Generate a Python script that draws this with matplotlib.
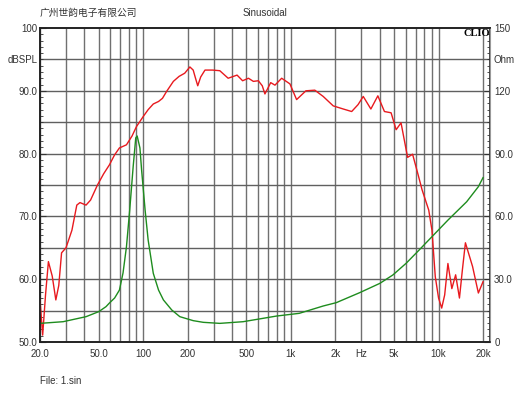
import numpy as np
import matplotlib.pyplot as plt
from matplotlib.ticker import FixedLocator, FixedFormatter, NullFormatter, NullLocator

plt.rcParams["font.family"] = ["Liberation Sans", "DejaVu Sans"]

# SPL response (Hz, dB)
spl_freq = [20, 20.85, 21.8, 22.8, 24.2, 25.6, 26.8, 28.0, 30, 32.9, 35.5, 37.3, 41, 44,
            49, 54, 59, 64, 69, 77, 84, 90, 100, 108, 117, 127, 135, 144, 160, 175, 191,
            207, 218, 226, 234, 245, 262, 295, 330, 376, 432, 471, 516, 557, 602, 640,
            667, 730, 780, 866, 985, 1093, 1264, 1452, 1655, 1935, 2264, 2580, 2850,
            3090, 3480, 3880, 4300, 4770, 5160, 5570, 6170, 6670, 7200, 7740, 8580, 9020,
            9500, 10000, 10500, 11000, 11570, 12300, 13050, 13850, 14500, 15200, 17000,
            18600, 20000]
spl_db = [56.7, 51.1, 57.5, 62.8, 60.5, 56.7, 59.0, 64.2, 65.0, 67.8, 71.8, 72.2, 71.8,
          72.6, 75.0, 76.8, 78.2, 79.8, 80.9, 81.4, 82.8, 84.3, 85.9, 87.0, 87.9, 88.3,
          88.8, 89.9, 91.5, 92.3, 92.8, 93.8, 93.3, 92.0, 90.8, 92.2, 93.3, 93.3, 93.2,
          92.0, 92.5, 91.6, 92.0, 91.5, 91.6, 90.8, 89.5, 91.3, 90.9, 92.0, 91.1, 88.6,
          90.0, 90.1, 89.1, 87.6, 87.1, 86.7, 87.8, 89.1, 87.1, 89.2, 86.7, 86.5, 83.8,
          84.9, 79.4, 79.9, 77.0, 74.2, 71.0, 67.8, 60.4, 57.0, 55.4, 57.5, 62.5, 58.5,
          60.7, 57.0, 61.5, 65.8, 62.0, 57.8, 59.6]

# Impedance (Hz, Ohm)
imp_freq = [20, 28.7, 41, 50, 56, 59, 64, 69, 73, 77, 81, 85.5, 89, 91, 95, 97.5, 103,
            108, 117, 127, 137, 156, 177, 218, 255, 330, 475, 800, 1140, 1655, 2030,
            2930, 4000, 4900, 6030, 7400, 9020, 11600, 15500, 18600, 20000]
imp_ohm = [8.9, 9.7, 12.1, 14.5, 16.9, 18.6, 21.0, 24.8, 33.0, 45.5, 63.0, 83.8, 97.5,
           98.4, 92.7, 82.2, 63.0, 48.7, 32.8, 24.8, 20.1, 15.3, 12.1, 10.2, 9.4, 8.9,
           9.7, 12.4, 13.7, 17.2, 18.8, 23.6, 28.0, 32.0, 37.6, 44.0, 50.3, 58.3, 67.0,
           74.2, 78.5]

xtick_vals = [20, 50, 100, 200, 500, 1000, 2000, 3000, 5000, 10000, 20000]
xtick_text = ["20.0", "50.0", "100", "200", "500", "1k", "2k", "Hz", "5k", "10k", "20k"]
ltick_vals = [50, 60, 70, 80, 90, 100]
ltick_text = ["50.0", "60.0", "70.0", "80.0", "90.0", "100"]
rtick_vals = [0, 30, 60, 90, 120, 150]
rtick_text = ["0", "30.0", "60.0", "90.0", "120", "150"]

fig = plt.figure(figsize=(5.3, 3.98), dpi=100)
ax = fig.add_axes([40 / 530, 1 - 342 / 398, 450 / 530, 314 / 398])

grid_x = list(range(20, 100, 10)) + list(range(100, 1000, 100)) + \
    list(range(1000, 10000, 1000)) + [10000, 20000]
for gx in grid_x:
    ax.axvline(gx, color="#707070", lw=1.0, zorder=0)
for gy in np.arange(55, 100, 5):
    ax.axhline(gy, color="#606060", lw=1.0, zorder=0)

ax.semilogx(spl_freq, spl_db, color="#e8191e", lw=1.0, zorder=3)

ax2 = ax.twinx()
ax2.semilogx(imp_freq, imp_ohm, color="#1e8c1e", lw=1.0, zorder=2)
ax2.set_ylim(0, 150)

ax.set_xlim(20, 22300)
ax.set_ylim(50, 100)
ax.xaxis.set_major_locator(FixedLocator(xtick_vals))
ax.xaxis.set_major_formatter(FixedFormatter(xtick_text))
ax.xaxis.set_minor_locator(NullLocator())
ax.xaxis.set_minor_formatter(NullFormatter())
ax.tick_params(axis="x", which="both", length=0, pad=5, labelsize=7, colors="#333333")

ax.yaxis.set_major_locator(FixedLocator(ltick_vals))
ax.yaxis.set_major_formatter(FixedFormatter(ltick_text))
ax.yaxis.set_minor_locator(FixedLocator(np.arange(50, 100, 1)))
ax.tick_params(axis="y", which="major", direction="in", length=4, pad=2,
               labelsize=7, colors="#333333")
ax.tick_params(axis="y", which="minor", direction="in", length=2, color="#333333")

ax2.yaxis.set_major_locator(FixedLocator(rtick_vals))
ax2.yaxis.set_major_formatter(FixedFormatter(rtick_text))
ax2.yaxis.set_minor_locator(FixedLocator(np.arange(0, 150, 3)))
ax2.tick_params(axis="y", which="major", direction="in", length=4, pad=3,
                labelsize=7, colors="#333333")
ax2.tick_params(axis="y", which="minor", direction="in", length=2, color="#333333")

for a in (ax, ax2):
    for s in a.spines.values():
        s.set_color("#222222")
        s.set_linewidth(1.2)
ax2.spines["right"].set_color("#999999")
ax2.spines["right"].set_linewidth(0.8)

fig.text(40 / 530, 1 - 13 / 398, "广州世韵电子有限公司", fontsize=7,
         family=["Noto Sans CJK SC", "DejaVu Sans"], color="#333333", va="center")
fig.text(265 / 530, 1 - 13 / 398, "Sinusoidal", fontsize=7, color="#333333",
         ha="center", va="center")
fig.text(38 / 530, 1 - 60 / 398, "dBSPL", fontsize=7, color="#333333",
         ha="right", va="center")
fig.text(493 / 530, 1 - 60 / 398, "Ohm", fontsize=7, color="#333333",
         ha="left", va="center")
fig.text(490 / 530, 1 - 36 / 398, "CLIO", fontsize=7.5, weight="bold",
         family=["Liberation Serif", "DejaVu Serif"], ha="right", va="baseline",
         zorder=5)
fig.text(40 / 530, 1 - 381 / 398, "File: 1.sin", fontsize=7, color="#333333",
         va="center")

fig.savefig("out.png", dpi=100)
